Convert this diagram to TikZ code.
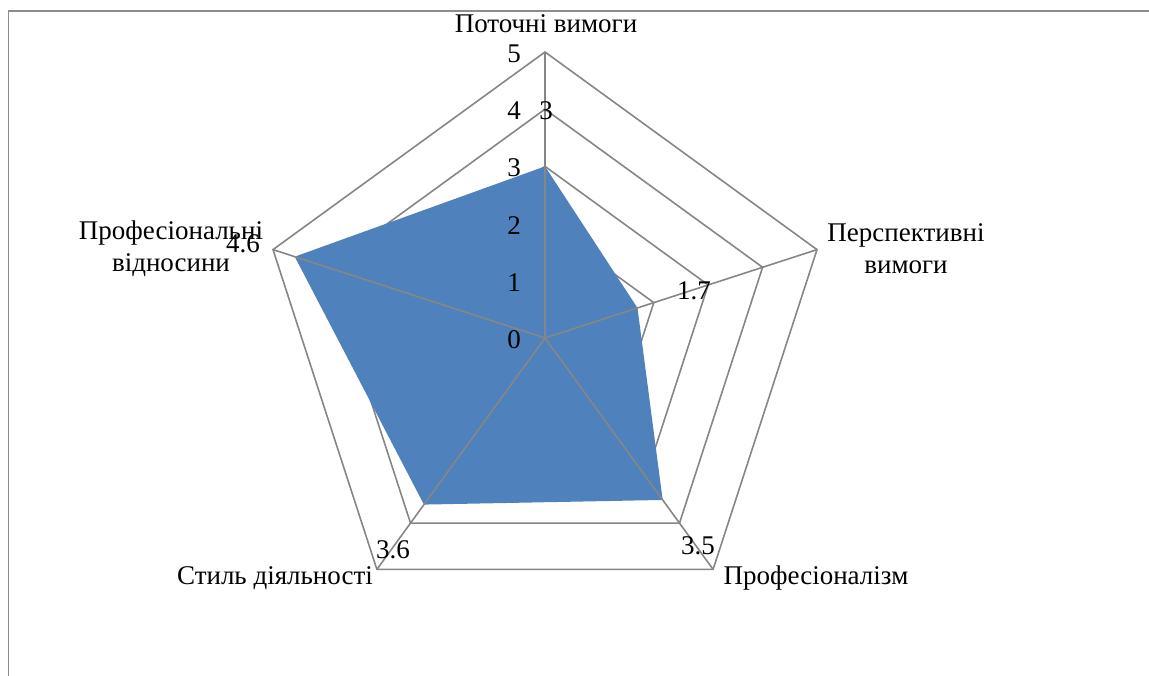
\documentclass[tikz,border=0pt]{standalone}
\usepackage{fontspec}
\setmainfont{Liberation Serif}
\usetikzlibrary{calc}
\definecolor{gridgray}{HTML}{868686}
\definecolor{serblue}{HTML}{4F81BD}
\definecolor{framegray}{HTML}{8C8C8C}
\begin{document}
\begin{tikzpicture}[x=1pt,y=1pt,
  gridline/.style={draw=gridgray, line width=1.6pt, line join=miter},
  framestyle/.style={draw=framegray, line width=1.8pt},
  lbl/.style={font=\fontsize{27}{32}\selectfont, inner sep=0pt, text=black},
  catlbl/.style={lbl, align=center},
  seriesfill/.style={fill=serblue, draw=none}]
\useasboundingbox (0,0) rectangle (1149,676);
% frame
\coordinate (fTR) at (1149,665);
\coordinate (fTL) at (8.5,665);
\coordinate (fBL) at (8.5,0);
\draw[framestyle] (fTR) -- (fTL) -- (fBL);
\coordinate (C) at (545,338);
\def\unit{57.2}
% rings
\foreach \r in {1,...,5} {
  \draw[gridline] ($(C)+(90:{\r*\unit})$) -- ($(C)+(18:{\r*\unit})$) -- ($(C)+(-54:{\r*\unit})$) -- ($(C)+(-126:{\r*\unit})$) -- ($(C)+(162:{\r*\unit})$) -- cycle;
}
% outer vertices
\coordinate (o1) at ($(C)+(90:{5*\unit})$);
\coordinate (o2) at ($(C)+(18:{5*\unit})$);
\coordinate (o3) at ($(C)+(-54:{5*\unit})$);
\coordinate (o4) at ($(C)+(-126:{5*\unit})$);
\coordinate (o5) at ($(C)+(162:{5*\unit})$);
% data
\coordinate (d1) at ($(C)+(90:{3*\unit})$);
\coordinate (d2) at ($(C)+(18:{1.7*\unit})$);
\coordinate (d3) at ($(C)+(-54:{3.5*\unit})$);
\coordinate (d4) at ($(C)+(-126:{3.6*\unit})$);
\coordinate (d5) at ($(C)+(162:{4.6*\unit})$);
\fill[seriesfill] (d1) -- (d2) -- (d3) -- (d4) -- (d5) -- cycle;
% spokes
\foreach \o in {o1,o2,o3,o4,o5} { \draw[gridline] (C) -- (\o); }
% tick labels
\foreach \v in {0,...,5} {
  \node[lbl, anchor=east] (t\v) at (521,{338+\v*\unit-1.5}) {\v};
}
% data labels
\node[lbl] (v1) at (546,565) {3};
\node[lbl] (v2) at (694,385) {1.7};
\node[lbl] (v3) at (698,130) {3.5};
\node[lbl] (v4) at (393,126) {3.6};
\node[lbl] (v5) at (243,432) {4.6};
% category labels
\node[catlbl, anchor=base] (c1) at (546,643) {Поточні вимоги};
\node[catlbl] (c2) at (906,427) {Перспективні\\вимоги};
\node[catlbl, anchor=base] (c3) at (816,91) {Професіоналізм};
\node[catlbl, anchor=base] (c4) at (275,91) {Стиль діяльності};
\node[catlbl] (c5) at (171,427) {Професіональні\\відносини};
\end{tikzpicture}
\end{document}
